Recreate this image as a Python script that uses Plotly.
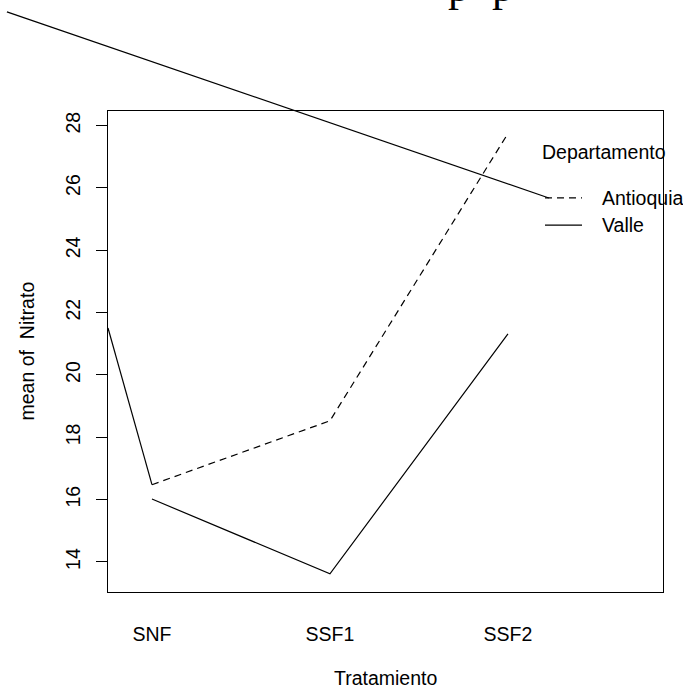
import plotly.graph_objects as go

# Interaction means of Nitrato by Tratamiento and Departamento
tratamientos = ["SNF", "SSF1", "SSF2"]
antioquia = [16.48, 18.53, 27.75]
valle = [16.02, 13.62, 21.32]
y_ticks = [14, 16, 18, 20, 22, 24, 26, 28]
departamentos = ["Antioquia", "Valle"]
leyenda_titulo = "Departamento"

# stray connector strokes, expressed in the panel's data units
trazo_izq_x = [0.753, 1.0]
trazo_izq_y = [21.51, antioquia[0]]
trazo_diag_x = [0.185, 3.23]
trazo_diag_y = [31.65, 25.68]

W, H = 683, 691
L, R, T, B = 108, 20, 111, 99
X0, X1 = 0.753, 3.871
Y0, Y1 = 13.037, 28.47

FONT = "Liberation Sans, Arial, sans-serif"
FS = 19.5

# full-page helper axes sharing the panel's data scale
sx = (X1 - X0) / (W - L - R)
sy = (Y1 - Y0) / (H - T - B)
x2_range = [X0 - L * sx, X1 + R * sx]
y2_range = [Y0 - B * sy, Y1 + T * sy]

fig = go.Figure()
x_pos = list(range(1, len(tratamientos) + 1))

fig.add_trace(go.Scatter(x=x_pos, y=antioquia, mode="lines",
                         line=dict(color="black", width=1.2, dash="7px,5px"),
                         showlegend=False, hoverinfo="skip"))
fig.add_trace(go.Scatter(x=x_pos, y=valle, mode="lines",
                         line=dict(color="black", width=1.2),
                         showlegend=False, hoverinfo="skip"))
fig.add_trace(go.Scatter(x=trazo_izq_x, y=trazo_izq_y, mode="lines",
                         line=dict(color="black", width=1.2),
                         showlegend=False, hoverinfo="skip"))

# legend drawn inside the panel
leg_x = [3.208, 3.416]
leg_y = [25.68, 24.81]
dashes = ["7px,5px", "solid"]
for nombre, yy, dd in zip(departamentos, leg_y, dashes):
    fig.add_trace(go.Scatter(x=leg_x, y=[yy, yy], mode="lines",
                             line=dict(color="black", width=1.2, dash=dd),
                             showlegend=False, hoverinfo="skip"))

fig.add_trace(go.Scatter(x=trazo_diag_x, y=trazo_diag_y, mode="lines",
                         line=dict(color="black", width=1.2),
                         xaxis="x2", yaxis="y2",
                         showlegend=False, hoverinfo="skip"))

annotations = [
    dict(x=3.18, y=27.16, xref="x", yref="y", text=leyenda_titulo,
         xanchor="left", yanchor="middle", showarrow=False,
         font=dict(family=FONT, size=FS, color="black")),
]
for nombre, yy in zip(departamentos, leg_y):
    annotations.append(dict(x=3.517, y=yy, xref="x", yref="y", text=nombre,
                            xanchor="left", yanchor="middle", showarrow=False,
                            font=dict(family=FONT, size=FS, color="black")))

annotations += [
    dict(x=(L + (W - L - R) / 2) / W, y=1 - 678 / H, xref="paper", yref="paper",
         text="Tratamiento", showarrow=False, xanchor="center", yanchor="middle",
         font=dict(family=FONT, size=FS, color="black")),
    dict(x=26 / W, y=(B + (H - T - B) / 2) / H, xref="paper", yref="paper",
         text="mean of \u00a0Nitrato", textangle=-90, showarrow=False,
         xanchor="center", yanchor="middle",
         font=dict(family=FONT, size=FS, color="black")),
    dict(x=446 / W, y=1 - 12.5 / H, xref="paper", yref="paper",
         text="p\u00a0\u00a0p", showarrow=False, xanchor="left", yanchor="bottom",
         font=dict(family="Liberation Serif, Times New Roman, serif", size=44, color="black")),
]

fig.update_layout(
    width=W, height=H,
    margin=dict(l=0, r=0, t=0, b=0),
    paper_bgcolor="white",
    plot_bgcolor="rgba(0,0,0,0)",
    font=dict(family=FONT, size=FS, color="black"),
    annotations=annotations,
    xaxis=dict(domain=[L / W, 1 - R / W], range=[X0, X1], anchor="y",
               tickvals=x_pos, ticktext=tratamientos, ticks="",
               showline=True, mirror=True, linecolor="black", linewidth=1.2,
               showgrid=False, zeroline=False, ticklabelstandoff=24,
               tickfont=dict(family=FONT, size=FS, color="black")),
    yaxis=dict(domain=[B / H, 1 - T / H], range=[Y0, Y1], anchor="x",
               tickvals=y_ticks, ticks="outside", ticklen=11, tickwidth=1.2,
               tickcolor="black", tickangle=-90,
               showline=True, mirror=True, linecolor="black", linewidth=1.2,
               showgrid=False, zeroline=False, ticklabelstandoff=8,
               tickfont=dict(family=FONT, size=FS, color="black")),
    xaxis2=dict(domain=[0, 1], range=x2_range, anchor="y2", visible=False,
                showgrid=False, zeroline=False),
    yaxis2=dict(domain=[0, 1], range=y2_range, anchor="x2", visible=False,
                showgrid=False, zeroline=False),
)

fig.write_html("out.html")
